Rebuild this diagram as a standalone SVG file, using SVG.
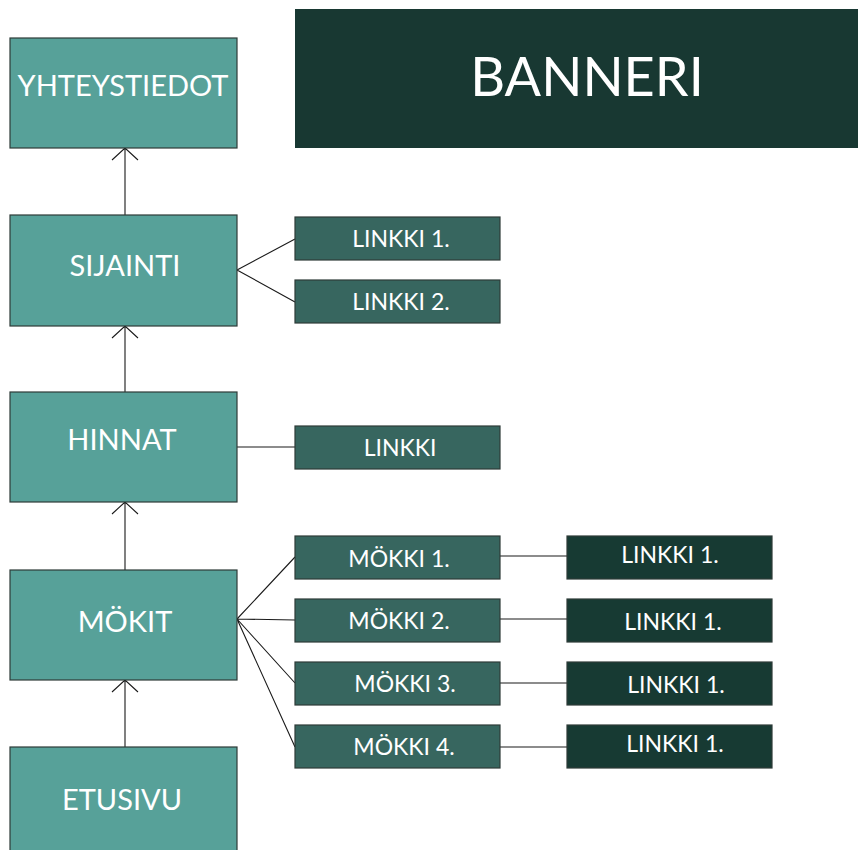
<svg xmlns="http://www.w3.org/2000/svg" width="858" height="850" viewBox="0 0 858 850">
<style>
.main{fill:#57a199;stroke:#2e3b38;stroke-width:1.2}
.mid{fill:#37665f;stroke:#2e3b38;stroke-width:1.2}
.dark{fill:#173a33;stroke:#2e3b38;stroke-width:1.2}
.banner{fill:#183832}
text{font-family:Lato,"Open Sans","Liberation Sans",sans-serif;fill:#ffffff;text-anchor:middle}
.t1{font-size:29px}
.t2{font-size:23px}
.tb{font-size:54px}
.c{stroke:#1a1a1a;stroke-width:1.1;fill:none}
</style>
<rect width="858" height="850" fill="#ffffff"/>
<g id="banner"><rect class="banner" x="295" y="9" width="563" height="139"/><text class="tb" x="587" y="96">BANNERI</text></g>
<g id="connectors">
<path class="c" d="M125,215 V148 M112,160 L125,148 L138,160"/>
<path class="c" d="M125,392 V326 M112,338 L125,326 L138,338"/>
<path class="c" d="M125,570 V502 M112,514 L125,502 L138,514"/>
<path class="c" d="M125,747 V680 M112,692 L125,680 L138,692"/>
<path class="c" d="M237,270 L295,239 M237,270 L295,302"/>
<path class="c" d="M237,447 H295"/>
<path class="c" d="M237,619 L295,557 M237,619 L295,620 M237,619 L295,683 M237,619 L295,747"/>
<path class="c" d="M500,556 H567 M500,619 H567 M500,683 H567 M500,747 H567"/>
</g>
<g id="yhteystiedot"><rect class="main" x="10" y="38" width="227" height="110"/><text class="t1" x="123" y="96">YHTEYSTIEDOT</text></g>
<g id="sijainti"><rect class="main" x="10" y="215" width="227" height="111"/><text class="t1" x="125" y="276">SIJAINTI</text></g>
<g id="hinnat"><rect class="main" x="10" y="392" width="227" height="110"/><text class="t1" x="122" y="450">HINNAT</text></g>
<g id="mokit"><rect class="main" x="10" y="570" width="227" height="110"/><text class="t1" x="125" y="632">MÖKIT</text></g>
<g id="etusivu"><rect class="main" x="10" y="747" width="227" height="110"/><text class="t1" x="122" y="810">ETUSIVU</text></g>
<g id="s-linkki1"><rect class="mid" x="295" y="217" width="205" height="43"/><text class="t2" x="401" y="247">LINKKI 1.</text></g>
<g id="s-linkki2"><rect class="mid" x="295" y="280" width="205" height="43"/><text class="t2" x="401" y="310">LINKKI 2.</text></g>
<g id="h-linkki"><rect class="mid" x="295" y="426" width="205" height="43"/><text class="t2" x="400" y="456">LINKKI</text></g>
<g id="mokki1"><rect class="mid" x="295" y="536" width="205" height="43"/><text class="t2" x="399" y="567">MÖKKI 1.</text></g>
<g id="mokki2"><rect class="mid" x="295" y="599" width="205" height="43"/><text class="t2" x="399" y="629">MÖKKI 2.</text></g>
<g id="mokki3"><rect class="mid" x="295" y="662" width="205" height="43"/><text class="t2" x="405" y="692">MÖKKI 3.</text></g>
<g id="mokki4"><rect class="mid" x="295" y="725" width="205" height="43"/><text class="t2" x="404" y="755">MÖKKI 4.</text></g>
<g id="m1-linkki"><rect class="dark" x="567" y="536" width="205" height="43"/><text class="t2" x="670" y="563">LINKKI 1.</text></g>
<g id="m2-linkki"><rect class="dark" x="567" y="599" width="205" height="43"/><text class="t2" x="673" y="630">LINKKI 1.</text></g>
<g id="m3-linkki"><rect class="dark" x="567" y="662" width="205" height="43"/><text class="t2" x="676" y="693">LINKKI 1.</text></g>
<g id="m4-linkki"><rect class="dark" x="567" y="725" width="205" height="43"/><text class="t2" x="675" y="752">LINKKI 1.</text></g>
</svg>
